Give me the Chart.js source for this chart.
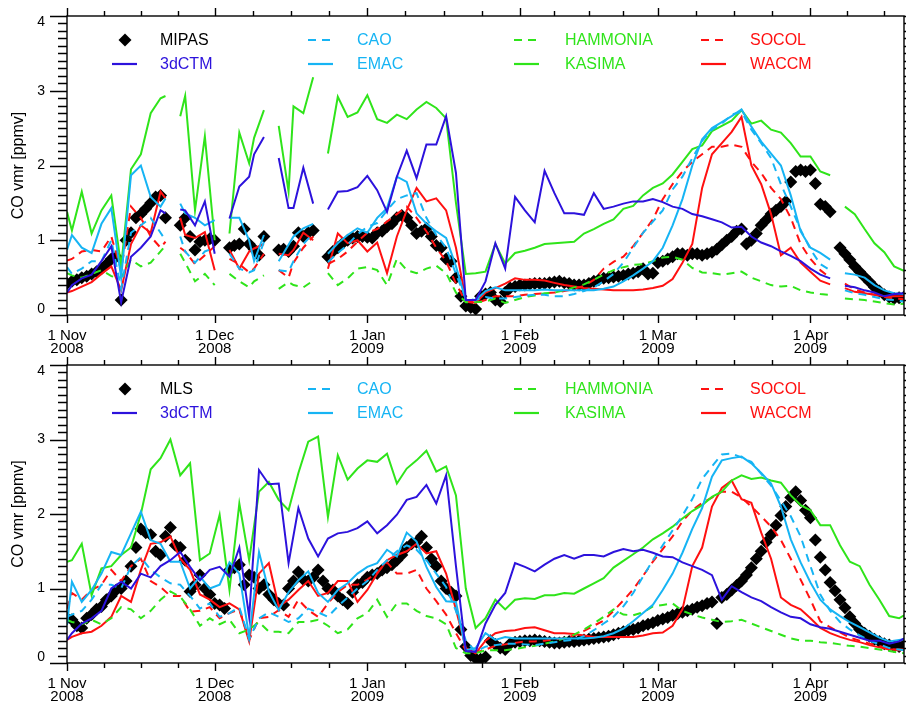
<!DOCTYPE html>
<html><head><meta charset="utf-8">
<script src="https://cdn.jsdelivr.net/npm/chart.js@4.4.1/dist/chart.umd.min.js"></script>
<style>
html,body{margin:0;padding:0;background:#fff;}
#wrap{position:relative;width:906px;height:702px;overflow:hidden;background:#fff;}
#c1{position:absolute;left:0;top:0;width:906px;height:357px;}
#c2{position:absolute;left:0;top:357px;width:906px;height:345px;}
</style></head><body>
<div id="wrap"><canvas id="c1" width="906" height="357"></canvas><canvas id="c2" width="906" height="345"></canvas></div>
<script>
// ---- axis categories / labels ----
const monthDays = [0, 30, 61, 92, 120, 151];
const monthLabels = [['1 Nov','2008'],['1 Dec','2008'],['1 Jan','2009'],['1 Feb','2009'],['1 Mar','2009'],['1 Apr','2009']];
const yTicks = [0, 1, 2, 3, 4];
const yTitle = 'CO vmr [ppmv]';

// ---- top panel (MIPAS) : model sampling days (days since 1 Nov 2008), null = no data ----
const topDays = [0,1,3,5,7,9,11,13,15,17,19,20,21.5,23,24,26,28,30,31.5,33,35,37,38,40,41.5,43,45,46,48,50,51.5,
 53,55,57,59,61,63,65,67,69,71,73,75,77,79,81,83,85,87,89,91,93,95,97,99,101,103,105,107,109,111,
 113,115,117,119,121,123,125,127,129,131,133,135,137,139,141,143,145,147,149,151,153,155,156.5,
 158,160,162,164,166,168,170];

const ctm3dTop = [0.3,0.4,0.49,0.54,0.72,0.92,0.17,0.78,0.9,1.05,1.4,1.36,null,
 1.41,1.4,1.2,1.52,0.82,null,
 1.29,1.72,1.85,2.15,2.38,null,
 2.1,1.43,1.43,1.97,1.49,null,
 1.41,1.65,1.66,1.71,1.86,1.67,1.38,1.85,2.2,1.83,
 2.28,2.28,2.66,1.9,0.2,0.2,0.45,0.96,0.62,1.58,
 1.4,1.24,1.93,1.63,1.36,1.36,1.34,1.63,1.42,1.45,
 1.49,1.52,1.52,1.55,1.51,1.45,1.42,1.35,1.32,1.28,
 1.24,1.17,1.18,1.05,0.97,0.92,0.85,0.79,0.72,0.62,
 0.54,0.49,null,
 0.39,0.37,0.33,0.3,0.25,0.28,0.29];

const caoTop = [0.64,0.55,0.62,0.72,0.72,1.0,0.35,1.1,1.2,1.3,1.1,1.0,null,
 1.05,0.85,0.7,0.85,0.9,null,
 0.82,0.62,0.57,0.6,0.98,null,
 0.6,0.58,0.72,0.95,1.09,null,
 0.71,0.83,0.94,1.08,1.18,1.23,1.4,1.55,1.6,1.63,
 1.3,1.07,0.9,0.55,0.22,0.2,0.24,0.22,0.22,0.24,
 0.26,0.27,0.27,0.25,0.25,0.28,0.32,0.37,0.45,0.55,
 0.7,0.9,1.1,1.25,1.4,1.68,1.85,2.1,2.33,2.48,
 2.56,2.68,2.72,2.48,2.3,2.1,1.75,1.45,1.14,0.88,
 0.68,0.6,null,
 0.33,0.29,0.27,0.24,0.21,0.2,0.18];

const emacTop = [0.87,1.07,0.9,0.83,1.22,1.43,0.5,1.87,2.0,1.58,1.45,1.56,null,
 1.49,1.36,1.3,1.2,1.27,null,
 1.3,1.3,1.0,0.72,1.07,null,
 0.72,0.94,1.05,1.16,1.22,null,
 0.82,0.96,1.07,1.16,1.1,1.3,1.43,1.85,1.78,1.36,
 1.22,1.12,1.03,0.65,0.2,0.2,0.32,0.37,0.33,0.33,
 0.33,0.33,0.34,0.33,0.33,0.33,0.33,0.33,0.35,0.38,
 0.45,0.53,0.62,0.72,0.9,1.2,1.55,2.0,2.35,2.5,
 2.58,2.66,2.75,2.52,2.32,2.16,2.0,1.6,1.12,0.9,
 0.83,0.74,null,
 0.56,0.54,0.5,0.4,0.33,0.29,0.28];

const hammoniaTop = [0.56,0.53,0.5,0.55,0.6,0.52,0.5,0.74,0.65,0.7,0.85,0.93,null,
 0.82,0.7,0.45,0.55,0.4,null,
 0.55,0.45,0.37,0.45,0.53,null,
 0.35,0.44,0.4,0.37,0.46,null,
 0.56,0.4,0.49,0.62,0.64,0.6,0.4,0.75,0.6,0.56,
 0.62,0.66,0.56,0.3,0.17,0.17,0.18,0.22,0.16,0.2,
 0.24,0.26,0.29,0.3,0.33,0.37,0.41,0.47,0.54,0.6,
 0.64,0.67,0.68,0.72,0.77,0.78,0.74,0.63,0.57,0.56,
 0.54,0.56,0.58,0.5,0.45,0.4,0.38,0.39,0.33,0.3,
 0.28,0.27,null,
 0.22,0.21,0.2,0.18,0.16,0.14,0.15];

const kasimaTop = [1.38,1.13,1.65,1.09,1.4,1.6,0.65,1.95,2.15,2.7,2.9,2.93,null,
 2.66,2.93,1.4,2.39,1.0,null,
 1.09,2.44,2.03,2.37,2.74,null,
 2.53,1.65,2.79,2.7,3.18,null,
 2.16,2.92,2.65,2.71,2.94,2.62,2.57,2.68,2.62,2.75,
 2.85,2.77,2.63,1.5,0.55,0.56,0.58,0.95,0.69,0.83,
 0.86,0.9,0.95,0.96,0.97,0.98,1.09,1.15,1.22,1.28,
 1.42,1.46,1.6,1.7,1.76,1.88,2.05,2.22,2.27,2.46,
 2.53,2.6,2.74,2.56,2.6,2.48,2.44,2.3,2.12,2.12,
 1.92,1.87,null,
 1.45,1.35,1.15,0.96,0.84,0.65,0.59];

const socolTop = [0.73,0.75,0.85,0.87,0.85,1.05,0.6,1.45,1.3,1.05,0.9,0.98,null,
 0.9,0.85,0.68,0.8,0.92,null,
 0.75,0.68,0.57,0.62,0.82,null,
 0.6,0.5,0.7,0.9,1.05,null,
 0.68,0.75,0.85,0.98,1.1,1.15,1.25,1.35,1.45,1.3,
 1.12,0.9,0.72,0.42,0.18,0.16,0.2,0.25,0.25,0.25,
 0.27,0.28,0.29,0.3,0.32,0.35,0.39,0.47,0.62,0.71,
 0.78,0.92,1.1,1.28,1.55,1.75,1.92,2.05,2.15,2.25,
 2.25,2.28,2.25,2.05,1.9,1.7,1.55,1.3,0.95,0.75,
 0.6,0.5,null,
 0.42,0.34,0.3,0.27,0.24,0.22,0.21];

const waccmTop = [0.3,0.32,0.38,0.44,0.55,0.65,0.33,0.95,1.2,1.1,1.65,1.56,null,
 1.3,1.07,1.03,1.11,0.6,null,
 0.87,0.62,0.85,0.89,0.95,null,
 0.82,0.8,0.87,1.1,1.0,null,
 0.62,1.09,0.96,1.0,0.85,0.97,0.56,1.05,1.4,1.7,
 1.52,1.56,1.4,0.9,0.2,0.16,0.3,0.36,0.42,0.49,
 0.47,0.47,0.46,0.43,0.4,0.38,0.36,0.35,0.34,0.33,
 0.33,0.33,0.34,0.36,0.39,0.48,0.7,0.95,1.7,2.15,
 2.3,2.45,2.65,2.0,1.75,1.35,0.8,0.9,0.7,0.58,
 0.46,0.41,null,
 0.36,0.31,0.29,0.27,0.25,0.25,0.25];

// MIPAS, daily from 1 Nov (day 0) to day 170
const mipas = [
 0.42,0.45,0.47,0.5,0.52,0.55,0.58,0.62,0.68,0.75,
 0.78,0.2,1.0,1.1,1.3,1.35,1.42,1.5,1.58,1.6,
 1.3,null,null,1.2,1.3,1.05,0.87,0.98,1.0,1.02,
 1.0,null,null,0.9,0.93,0.95,1.15,0.95,0.88,0.8,
 1.05,null,null,0.87,0.88,0.85,0.92,1.1,1.05,1.1,
 1.13,null,null,0.78,0.85,0.9,0.96,1.0,1.03,1.05,
 1.05,1.04,1.03,1.1,1.12,1.18,1.22,1.3,1.33,1.3,
 1.2,1.09,1.12,1.16,1.05,0.93,0.9,0.75,0.72,0.5,
 0.25,0.12,0.1,0.08,0.25,0.28,0.3,0.2,0.18,0.3,
 0.36,0.38,0.4,0.4,0.41,0.42,0.42,0.42,0.43,0.44,
 0.45,0.43,0.42,0.4,0.4,0.4,0.42,0.45,0.47,0.49,
 0.5,0.51,0.52,0.53,0.55,0.56,0.58,0.62,0.55,0.56,
 0.7,0.72,0.75,0.78,0.82,0.82,0.8,0.82,0.82,0.8,
 0.82,0.84,0.88,0.94,1.0,1.05,1.12,1.15,0.95,1.0,
 1.09,1.2,1.27,1.35,1.4,1.45,1.52,1.78,1.92,1.94,
 1.92,1.94,1.76,1.48,1.45,1.38,null,0.9,0.82,0.74,
 0.65,0.58,0.51,0.44,0.37,0.32,0.27,0.24,0.22,0.23,
 0.24];

// ---- bottom panel (MLS) ----
const botDays = [0,1,3,5,7,9,11,13,15,17,19,21,23,25,27,29,31,33,35,37,39,41,43,45,47,49,51,53,55,57,59,61,
 63,65,67,69,71,73,75,77,79,81,83,85,87,89,91,93,95,97,99,101,103,105,107,109,111,113,115,117,119,121,
 123,125,127,129,131,133,135,137,139,141,143,145,147,149,151,153,155,157,159,161,163,165,167,169,170];

const ctm3dBot = [0.31,0.4,0.53,0.6,0.7,1.0,1.09,1.0,1.2,1.15,1.3,1.38,1.49,1.29,1.11,1.25,1.29,1.16,1.55,0.62,
 2.59,2.4,2.41,1.34,2.08,1.67,1.43,1.67,1.74,1.76,1.81,1.9,
 1.74,1.85,1.99,2.19,2.23,2.39,2.14,2.52,1.3,0.16,
 0.15,0.53,0.78,0.94,1.34,1.29,1.23,1.32,1.4,1.45,
 1.4,1.45,1.45,1.43,1.49,1.53,1.5,1.52,1.48,1.43,
 1.42,1.35,1.3,1.25,1.18,0.85,1.03,0.95,0.88,0.83,
 0.75,0.68,0.62,0.6,0.52,0.48,0.46,0.42,0.38,0.34,
 0.3,0.3,0.26,0.29,0.33];

const caoBot = [0.62,0.65,0.7,0.85,1.05,1.05,1.0,1.3,1.42,1.25,1.15,1.07,1.05,0.9,0.73,0.8,0.62,0.67,0.75,0.32,
 0.6,0.68,0.62,0.55,0.6,0.73,0.68,0.62,0.76,0.88,1.0,1.1,
 1.25,1.38,1.5,1.58,1.52,1.38,1.2,1.02,0.7,0.3,
 0.15,0.22,0.24,0.26,0.26,0.25,0.24,0.26,0.28,0.3,
 0.31,0.36,0.44,0.53,0.62,0.76,0.94,1.16,1.38,1.58,
 1.78,1.98,2.2,2.47,2.64,2.8,2.81,2.76,2.7,2.54,
 2.38,2.18,1.97,1.7,1.3,0.92,0.7,0.55,0.45,0.37,
 0.3,0.25,0.2,0.18,0.17];

const emacBot = [0.51,1.09,0.82,0.98,1.2,1.49,1.45,1.74,2.03,1.65,1.6,1.36,1.36,1.0,1.16,1.0,1.05,1.35,1.2,0.35,
 1.49,0.96,0.71,0.95,1.11,1.23,0.94,0.82,0.98,1.07,1.2,1.29,
 1.34,1.52,1.43,1.75,1.63,1.29,1.02,0.83,0.82,0.17,
 0.2,0.4,0.31,0.35,0.33,0.33,0.33,0.33,0.33,0.33,
 0.33,0.33,0.34,0.36,0.4,0.46,0.56,0.67,0.78,0.98,
 1.2,1.48,1.8,2.08,2.5,2.72,2.75,2.77,2.68,2.55,
 2.41,2.1,1.66,1.35,1.08,0.85,0.72,0.63,0.55,0.48,
 0.41,0.34,0.29,0.31,0.32];

const hammoniaBot = [0.58,0.55,0.52,0.58,0.52,0.6,0.75,0.72,0.6,0.7,0.85,0.96,0.89,0.72,0.5,0.6,0.52,0.58,0.4,0.45,
 0.55,0.42,0.42,0.4,0.55,0.55,0.58,0.5,0.4,0.45,0.6,0.67,
 0.85,0.62,0.8,0.8,0.7,0.63,0.6,0.52,0.2,0.13,
 0.13,0.17,0.17,0.17,0.19,0.21,0.23,0.26,0.29,0.33,
 0.38,0.45,0.53,0.62,0.72,0.65,0.64,0.68,0.76,0.78,
 0.8,0.7,0.65,0.61,0.58,0.55,0.56,0.58,0.53,0.48,
 0.43,0.38,0.33,0.3,0.3,0.28,0.27,0.25,0.23,0.22,
 0.2,0.18,0.16,0.14,0.13];

const kasimaBot = [1.36,1.38,1.6,0.91,1.27,1.3,1.45,1.55,2.0,2.6,2.75,3.0,2.52,2.68,1.38,1.47,1.99,0.98,2.14,1.38,
 2.3,2.43,2.19,2.05,2.55,2.97,3.04,1.96,2.79,2.46,2.61,2.72,
 2.7,2.81,2.41,2.61,2.72,2.85,2.57,2.64,2.25,1.0,
 0.47,0.6,0.85,0.72,0.85,0.87,0.86,0.91,0.91,0.94,
 0.93,1.0,1.07,1.14,1.28,1.37,1.46,1.55,1.66,1.74,
 1.83,1.94,2.04,2.12,2.23,2.3,2.45,2.52,2.47,2.49,
 2.45,2.42,2.25,2.12,2.05,1.85,1.85,1.58,1.36,1.3,
 1.05,0.85,0.63,0.6,0.64];

const socolBot = [0.73,0.94,0.85,0.98,1.05,1.25,1.1,1.3,1.4,1.1,1.02,0.9,0.9,0.69,0.7,0.75,0.6,0.67,0.72,0.31,
 0.6,0.62,0.71,0.62,0.85,0.71,0.62,0.8,0.95,1.05,1.05,1.12,
 1.22,1.35,1.2,1.2,1.25,1.0,0.83,0.65,0.4,0.17,
 0.14,0.18,0.23,0.25,0.27,0.29,0.29,0.3,0.32,0.33,
 0.37,0.43,0.5,0.57,0.7,0.84,0.99,1.17,1.36,1.53,
 1.7,1.9,2.05,2.15,2.22,2.3,2.3,2.22,2.1,1.97,
 1.83,1.65,1.4,1.12,0.85,0.56,0.48,0.41,0.34,0.3,
 0.26,0.23,0.19,0.17,0.17];

const waccmBot = [0.31,0.35,0.4,0.42,0.5,0.62,0.9,0.82,1.25,1.6,1.62,1.7,1.4,1.25,0.92,0.85,0.75,0.8,0.72,0.29,
 1.2,1.34,0.76,0.85,0.98,1.1,0.9,0.94,1.1,1.1,0.82,0.98,
 1.2,1.38,1.45,1.5,1.6,1.47,1.5,1.2,0.72,0.2,
 0.13,0.3,0.4,0.43,0.44,0.47,0.48,0.44,0.4,0.4,
 0.39,0.37,0.35,0.35,0.35,0.35,0.35,0.37,0.4,0.41,
 0.5,0.72,1.3,1.55,2.1,2.35,2.45,2.2,2.15,1.75,
 1.4,0.88,0.78,0.72,0.6,0.47,0.4,0.35,0.31,0.28,
 0.24,0.21,0.18,0.18,0.18];

// MLS, daily from day 0 to day 170
const mls = [
 0.6,0.58,0.5,0.47,0.6,0.65,0.72,0.76,0.85,0.9,
 0.98,1.0,1.1,1.3,1.55,1.8,1.75,1.72,1.5,1.45,
 1.7,1.82,1.58,1.55,1.38,0.96,1.05,1.18,1.0,0.92,
 0.8,0.78,0.73,1.25,1.28,1.32,1.05,1.18,1.15,1.0,
 1.05,0.92,0.85,0.8,0.78,1.0,1.1,1.22,1.12,1.1,
 1.15,1.25,1.1,1.0,0.98,0.9,0.85,0.8,0.95,1.05,
 1.08,1.15,1.18,1.2,1.25,1.28,1.32,1.38,1.45,1.55,
 1.6,1.62,1.7,1.55,1.4,1.3,1.1,1.0,0.95,0.9,
 0.45,0.22,0.1,0.06,0.05,0.08,0.3,0.25,0.2,0.18,
 0.26,0.28,0.29,0.3,0.3,0.31,0.3,0.29,0.28,0.27,
 0.27,0.28,0.29,0.29,0.3,0.31,0.32,0.33,0.34,0.35,
 0.36,0.38,0.4,0.42,0.44,0.45,0.47,0.5,0.52,0.54,
 0.57,0.59,0.61,0.64,0.66,0.68,0.7,0.72,0.75,0.77,
 0.8,0.82,0.53,0.88,0.92,0.98,1.04,1.1,1.18,1.28,
 1.4,1.5,1.62,1.72,1.85,1.98,2.1,2.22,2.3,2.18,
 2.05,1.95,1.65,1.42,1.25,1.08,0.97,0.85,0.74,0.62,
 0.53,0.45,0.4,0.36,0.32,0.29,0.26,0.24,0.22,0.22,
 0.24];
const obsDays = mls.map((_, i) => i);

// ---- styles ----
const FONT = '"Liberation Sans", Arial, Helvetica, sans-serif';
const C_BLUE = '#2c12dc', C_SKY = '#16b4f4', C_GREEN = '#2fe41a', C_RED = '#ff1010';
const DASH = [8, 6];

function pts(days, vals) {
  return days.map((d, i) => ({x: d, y: i < vals.length ? vals[i] : null}));
}

const legendCols = [
  {lx: 112, tx: 160}, {lx: 308, tx: 357}, {lx: 514, tx: 565}, {lx: 701, tx: 750}
];

const frameTicks = {
  id: 'frameTicks',
  afterDraw(chart, args, opts) {
    const {ctx, chartArea: a, scales: {x, y}} = chart;
    ctx.save();
    ctx.strokeStyle = '#000';
    ctx.lineWidth = 1.4;
    ctx.strokeRect(a.left, a.top, a.right - a.left, a.bottom - a.top);
    ctx.beginPath();
    for (let k = 0; k <= 40; k++) {
      const py = Math.round(y.getPixelForValue(k / 10)) + 0.5;
      const L = (k % 10 === 0) ? 17 : 9;
      ctx.moveTo(a.left - L, py); ctx.lineTo(a.left, py);
      ctx.moveTo(a.right, py); ctx.lineTo(a.right + L, py);
    }
    for (let m = 0; m < monthDays.length; m++) {
      const d0 = monthDays[m];
      const d1 = m + 1 < monthDays.length ? monthDays[m + 1] : 181;
      for (let q = 0; q < 4; q++) {
        const d = d0 + (d1 - d0) * q / 4;
        if (d > x.max) break;
        const px = Math.round(x.getPixelForValue(d)) + 0.5;
        const L = q === 0 ? 8 : 5;
        ctx.moveTo(px, a.bottom); ctx.lineTo(px, a.bottom + L);
        ctx.moveTo(px, a.top); ctx.lineTo(px, a.top - L);
      }
    }
    ctx.stroke();

    // legend
    const r1 = a.top + 24, r2 = a.top + 48;
    const entries = [
      {col: 0, row: r1, text: opts.obsLabel, color: '#000', diamond: true},
      {col: 0, row: r2, text: '3dCTM', color: C_BLUE, dash: false},
      {col: 1, row: r1, text: 'CAO', color: C_SKY, dash: true},
      {col: 1, row: r2, text: 'EMAC', color: C_SKY, dash: false},
      {col: 2, row: r1, text: 'HAMMONIA', color: C_GREEN, dash: true},
      {col: 2, row: r2, text: 'KASIMA', color: C_GREEN, dash: false},
      {col: 3, row: r1, text: 'SOCOL', color: C_RED, dash: true},
      {col: 3, row: r2, text: 'WACCM', color: C_RED, dash: false}
    ];
    ctx.font = '16px ' + FONT;
    ctx.textBaseline = 'middle';
    ctx.textAlign = 'left';
    for (const e of entries) {
      const c = legendCols[e.col];
      if (e.diamond) {
        const cx = c.lx + 13, r = 6.5;
        ctx.fillStyle = '#000';
        ctx.beginPath();
        ctx.moveTo(cx, e.row - r); ctx.lineTo(cx + r, e.row); ctx.lineTo(cx, e.row + r); ctx.lineTo(cx - r, e.row);
        ctx.closePath(); ctx.fill();
      } else {
        ctx.strokeStyle = e.color; ctx.lineWidth = 2.2;
        ctx.setLineDash(e.dash ? DASH : []);
        ctx.beginPath(); ctx.moveTo(c.lx, e.row); ctx.lineTo(c.lx + 25, e.row); ctx.stroke();
        ctx.setLineDash([]);
      }
      ctx.fillStyle = e.color;
      ctx.fillText(e.text, c.tx, e.row + 1);
    }
    ctx.restore();
  }
};

function makeChart(canvas, obsLabel, obsVals, days, models, padTop, xHeight) {
  const ds = models.map(m => ({
    label: m.name, data: pts(days, m.vals), borderColor: m.color, backgroundColor: m.color,
    borderWidth: 2, borderDash: m.dash ? DASH : [], pointRadius: 0, pointHoverRadius: 0,
    tension: 0, fill: false, spanGaps: false, order: 0
  }));
  ds.push({
    label: obsLabel, data: pts(obsDays, obsVals), showLine: false, pointStyle: 'rectRot',
    pointRadius: 6.5, pointHoverRadius: 6.5, pointBackgroundColor: '#000', pointBorderColor: '#000',
    pointBorderWidth: 0, order: 1
  });
  return new Chart(canvas, {
    type: 'line',
    data: {datasets: ds},
    options: {
      responsive: false, animation: false, devicePixelRatio: 1, events: [],
      layout: {autoPadding: false, padding: {top: padTop, left: 0, right: 2, bottom: 0}},
      plugins: {legend: {display: false}, tooltip: {enabled: false}, frameTicks: {obsLabel: obsLabel}},
      scales: {
        x: {
          type: 'linear', min: 0, max: 170,
          grid: {display: false, drawTicks: false}, border: {display: false},
          afterBuildTicks: s => { s.ticks = monthDays.map(v => ({value: v})); },
          afterFit: s => { s.height = xHeight; s.paddingLeft = 0; s.paddingRight = 0; s.paddingTop = 0; s.paddingBottom = 0; },
          ticks: {autoSkip: false, maxRotation: 0, minRotation: 0, padding: 15, color: '#000',
            font: {family: FONT, size: 15, lineHeight: 0.83},
            callback: (v, i) => monthLabels[i]}
        },
        y: {
          type: 'linear', min: 0, max: 4,
          grid: {display: false, drawTicks: false}, border: {display: false},
          afterBuildTicks: s => { s.ticks = yTicks.map(v => ({value: v === 0 ? 0.08 : (v === 4 ? 3.92 : v)})); },
          afterFit: s => { s.width = 67; s.paddingTop = 0; s.paddingBottom = 0; s.paddingLeft = 0; s.paddingRight = 0; },
          ticks: {padding: 22, color: '#000', font: {family: FONT, size: 14, lineHeight: 1},
            callback: v => String(Math.round(v))},
          title: {display: true, text: yTitle, color: '#000', font: {family: FONT, size: 16},
            padding: {top: 9, bottom: 0}}
        }
      }
    },
    plugins: [frameTicks]
  });
}

// make the plot area land exactly where the reference has it
function fitArea(chart, target) {
  for (let k = 0; k < 5; k++) {
    const a = chart.chartArea, p = chart.options.layout.padding;
    const dT = a.top - target.top, dB = a.bottom - target.bottom;
    const dL = a.left - target.left, dR = a.right - target.right;
    if (Math.max(Math.abs(dT), Math.abs(dB), Math.abs(dL), Math.abs(dR)) < 0.3) break;
    p.top -= dT; p.bottom += dB; p.left -= dL; p.right += dR;
    chart.update();
  }
}

const topModels = [
  {name: '3dCTM', vals: ctm3dTop, color: C_BLUE, dash: false},
  {name: 'CAO', vals: caoTop, color: C_SKY, dash: true},
  {name: 'EMAC', vals: emacTop, color: C_SKY, dash: false},
  {name: 'HAMMONIA', vals: hammoniaTop, color: C_GREEN, dash: true},
  {name: 'KASIMA', vals: kasimaTop, color: C_GREEN, dash: false},
  {name: 'SOCOL', vals: socolTop, color: C_RED, dash: true},
  {name: 'WACCM', vals: waccmTop, color: C_RED, dash: false}
];
const botModels = [
  {name: '3dCTM', vals: ctm3dBot, color: C_BLUE, dash: false},
  {name: 'CAO', vals: caoBot, color: C_SKY, dash: true},
  {name: 'EMAC', vals: emacBot, color: C_SKY, dash: false},
  {name: 'HAMMONIA', vals: hammoniaBot, color: C_GREEN, dash: true},
  {name: 'KASIMA', vals: kasimaBot, color: C_GREEN, dash: false},
  {name: 'SOCOL', vals: socolBot, color: C_RED, dash: true},
  {name: 'WACCM', vals: waccmBot, color: C_RED, dash: false}
];

const ch1 = makeChart(document.getElementById('c1'), 'MIPAS', mipas, topDays, topModels, 16, 42);
const ch2 = makeChart(document.getElementById('c2'), 'MLS', mls, botDays, botModels, 8, 39);
fitArea(ch1, {left: 67, top: 16, right: 904, bottom: 315});
fitArea(ch2, {left: 67, top: 8, right: 904, bottom: 306});
</script>
</body></html>
